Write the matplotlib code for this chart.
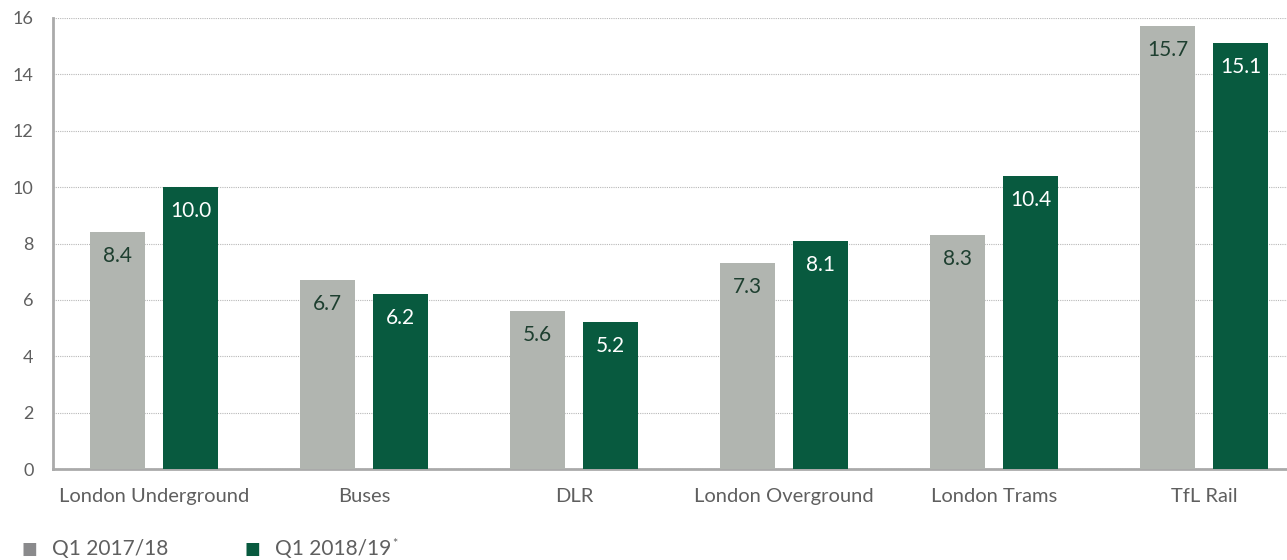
import matplotlib
matplotlib.use("Agg")
import matplotlib.pyplot as plt
import numpy as np

categories = ["London Underground", "Buses", "DLR", "London Overground", "London Trams", "TfL Rail"]
q1_2017 = [8.4, 6.7, 5.6, 7.3, 8.3, 15.7]
q1_2018 = [10.0, 6.2, 5.2, 8.1, 10.4, 15.1]
series_labels = ["Q1 2017/18", "Q1 2018/19"]
yticks = [0, 2, 4, 6, 8, 10, 12, 14, 16]

gray = "#b1b5b0"
green = "#085a3f"
textc = "#5f5f5f"

plt.rcParams['font.family'] = ['Lato', 'DejaVu Sans']

fig = plt.figure(figsize=(12.87, 5.60), dpi=100)
ax = fig.add_axes([53/1287, (560-469)/560, (1287-53)/1287, (469-18)/560])

x = np.arange(len(categories))
w = 0.262
off = 0.174
b1 = ax.bar(x - off, q1_2017, w, color=gray, zorder=3)
b2 = ax.bar(x + off, q1_2018, w, color=green, zorder=3)

for rect, v in zip(b1, q1_2017):
    ax.text(rect.get_x() + rect.get_width()/2, v - 0.85, f"{v:.1f}", ha="center", va="center",
            color="#1e3f30", fontsize=15, zorder=4)
for rect, v in zip(b2, q1_2018):
    ax.text(rect.get_x() + rect.get_width()/2, v - 0.85, f"{v:.1f}", ha="center", va="center",
            color="white", fontsize=15, zorder=4)

ax.set_xlim(-0.481, 5.395)
ax.set_ylim(0, 16)
ax.set_yticks(yticks)
ax.set_yticklabels([str(t) for t in yticks])
ax.set_xticks(x)
ax.set_xticklabels(categories)
ax.tick_params(axis="both", length=0, colors=textc)
ax.tick_params(axis="y", pad=14, labelsize=13)
ax.tick_params(axis="x", pad=14, labelsize=14.5)
ax.yaxis.grid(True, linestyle=(0, (1, 1)), color="#b8b8b8", linewidth=0.8, zorder=0)
ax.set_axisbelow(True)
for s in ["top", "right"]:
    ax.spines[s].set_visible(False)
ax.spines["left"].set_color("#aaaaaa")
ax.spines["left"].set_linewidth(2)
ax.spines["bottom"].set_color("#aaaaaa")
ax.spines["bottom"].set_linewidth(2)

# legend
ly = 1 - 549/560
fig.text(29/1287, ly, "\u25A0", color="#8a8a8c", fontsize=12, ha="center", va="center",
         family=["DejaVu Sans"])
fig.text(52/1287, ly, series_labels[0], color=textc, fontsize=15, ha="left", va="center")
fig.text(252/1287, ly, "\u25A0", color=green, fontsize=12, ha="center", va="center",
         family=["DejaVu Sans"])
t2 = fig.text(275/1287, ly, series_labels[1], color=textc, fontsize=15, ha="left", va="center")
fig.canvas.draw()
fig.text(0, 0, "*", color=textc, fontsize=9, ha="left", va="top",
         transform=matplotlib.transforms.offset_copy(
             matplotlib.transforms.blended_transform_factory(
                 matplotlib.transforms.IdentityTransform(), matplotlib.transforms.IdentityTransform()),
             fig=fig, x=t2.get_window_extent().x1 + 1, y=t2.get_window_extent().y1 + 1, units="dots"))

fig.savefig("out.png", dpi=100)
